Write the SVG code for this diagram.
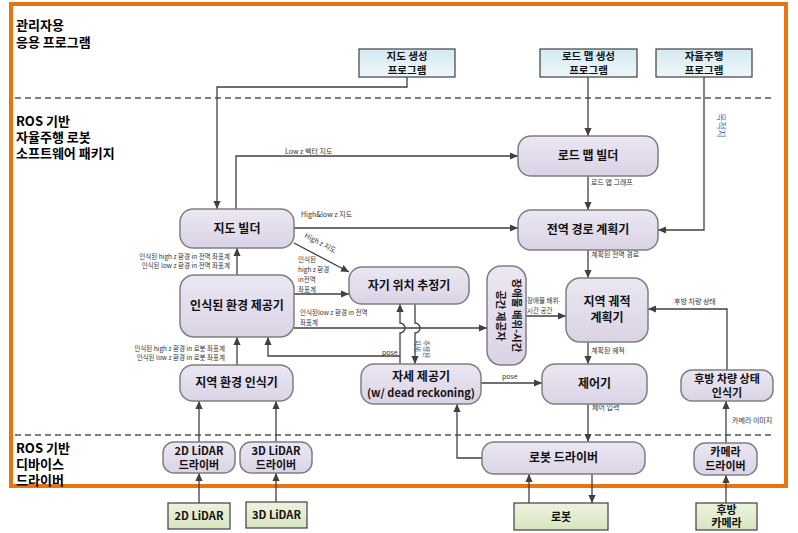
<svg xmlns="http://www.w3.org/2000/svg" width="798" height="533" viewBox="0 0 798 533">
<defs>
<linearGradient id="gNode" x1="0" y1="0" x2="0" y2="1"><stop offset="0" stop-color="#EBE7F2"/><stop offset="1" stop-color="#DAD3E5"/></linearGradient>
<linearGradient id="gProg" x1="0" y1="0" x2="0" y2="1"><stop offset="0" stop-color="#D5EAF2"/><stop offset="1" stop-color="#EEF7FA"/></linearGradient>
<linearGradient id="gGreen" x1="0" y1="0" x2="0" y2="1"><stop offset="0" stop-color="#EDF3E0"/><stop offset="1" stop-color="#D8E5BF"/></linearGradient>
<marker id="ah" viewBox="0 0 10 10" refX="10" refY="5" markerWidth="8" markerHeight="8" markerUnits="userSpaceOnUse" orient="auto"><path d="M0,0.5 L10,5 L0,9.5 z" fill="#404040"/></marker>
<style>
.n rect{fill:url(#gNode);stroke:#7F7F7F;stroke-width:1.5}
.p rect{fill:url(#gProg);stroke:#3F3F3F;stroke-width:1.2}
.g rect{fill:url(#gGreen);stroke:#3F3F3F;stroke-width:1.2}
text{font-family:"Noto Sans CJK KR","Noto Sans",sans-serif}
.t{font-size:12px;font-weight:bold;fill:#111;text-anchor:middle}
.ts{font-size:11px;font-weight:bold;fill:#111;text-anchor:middle}
.tp{font-size:10.5px;font-weight:bold;fill:#111;text-anchor:middle}
.sec{font-size:13px;font-weight:bold;fill:#000}
.l{font-size:7px;fill:#333}
.l2{font-size:6.5px;fill:#333}
.lr{font-size:6.5px;fill:#333;text-anchor:end}
.c path{fill:none;stroke:#404040;stroke-width:1.3}
.c path.a{marker-end:url(#ah)}
</style>
</defs>
<rect width="798" height="533" fill="#fff"/>
<rect x="11" y="4" width="775" height="482" fill="none" stroke="#E8740F" stroke-width="4"/>
<g id="dividers" stroke="#555" stroke-width="1.5" stroke-dasharray="6,4">
<line x1="15" y1="98" x2="775" y2="98"/>
<line x1="15" y1="435" x2="775" y2="435"/>
</g>
<g id="sections" class="sec">
<text x="16" y="30" class="sec">관리자용</text>
<text x="16" y="47" class="sec">응용 프로그램</text>
<text x="16" y="126" class="sec">ROS 기반</text>
<text x="16" y="142" class="sec">자율주행 로봇</text>
<text x="16" y="158" class="sec">소프트웨어 패키지</text>
<text x="16" y="453" class="sec">ROS 기반</text>
<text x="16" y="469" class="sec">디바이스</text>
<text x="16" y="485" class="sec">드라이버</text>
</g>
<g class="c" id="connectors">
<path class="a" d="M407,77 V87 H217 V209"/>
<path class="a" d="M236,209 V156 H518"/>
<path class="a" d="M588,77 V136"/>
<path class="a" d="M704,77 V230 H658"/>
<path class="a" d="M588,176 V210"/>
<path class="a" d="M588,250 V278"/>
<path class="a" d="M588,342 V364"/>
<path class="a" d="M588,404 V442"/>
<path class="a" d="M294,228 H518"/>
<path class="a" d="M294,243 L349,272"/>
<path class="a" d="M294,294 H349"/>
<path class="a" d="M294,328 H487"/>
<path class="a" d="M400,364 V333 A5,5 0 0 0 400,323 V304"/>
<path class="a" d="M415,304 V323 A5,5 0 0 1 415,333 V364"/>
<path class="a" d="M400,356 H268 V337"/>
<path class="a" d="M237,275 V248"/>
<path class="a" d="M237,365 V337"/>
<path class="a" d="M526,316 H566"/>
<path class="a" d="M727,370 V309 H648"/>
<path class="a" d="M481,383 H542"/>
<path class="a" d="M482,458 H457 V404"/>
<path class="a" d="M529,503 V474"/>
<path class="a" d="M592,474 V503"/>
<path class="a" d="M199,503 V473"/>
<path class="a" d="M199,442 V401"/>
<path class="a" d="M276,502 V473"/>
<path class="a" d="M276,442 V401"/>
<path class="a" d="M726,503 V475"/>
<path class="a" d="M726,443 V401"/>
</g>
<g id="labels">
<text class="l" x="285" y="154">Low z 벡터 지도</text>
<text class="l" x="591" y="185">로드 맵 그래프</text>
<text class="l" x="301" y="217">High&amp;low z 지도</text>
<text class="l" x="304" y="237" transform="rotate(28 304 237)">High z 지도</text>
<text class="l" x="591" y="257">계획된 전역 경로</text>
<text class="l2" x="298" y="262">인식된</text>
<text class="l2" x="298" y="272">high z 환경</text>
<text class="l2" x="298" y="282">in전역</text>
<text class="l2" x="298" y="292">좌표계</text>
<text class="l2" x="300" y="315">인식된low z 환경 in 전역</text>
<text class="l2" x="300" y="325">좌표계</text>
<text class="l2" x="527" y="303">장애물 배위-</text>
<text class="l2" x="527" y="313">시간 공간</text>
<text class="l" x="674" y="304">후방 차량 상태</text>
<text class="l" x="591" y="353">계획된 궤적</text>
<text class="l" x="502" y="379">pose</text>
<text class="l" x="382" y="355">pose</text>
<text class="l" x="592" y="410">제어 입력</text>
<text class="l" x="732" y="423">카메라 이미지</text>
<text class="lr" x="230" y="259">인식된 high z 환경 in 전역 좌표계</text>
<text class="lr" x="230" y="268">인식된 low z 환경 in 전역 좌표계</text>
<text class="lr" x="225" y="351">인식된 high z 환경 in 로봇 좌표계</text>
<text class="lr" x="225" y="360">인식된  low z 환경 in 로봇 좌표계</text>
<text class="l2" style="fill:#1F4E79" transform="translate(424,340) rotate(90)">추정된</text>
<text class="l2" style="fill:#1F4E79" transform="translate(415,340) rotate(90)">자세</text>
<text style="font-size:9px;fill:#4472C4" transform="translate(718,113) rotate(90)">목적지</text>
</g>
<g id="prog-map" class="p"><rect x="359" y="49" width="96" height="28"/><text class="tp" x="407" y="60">지도 생성</text><text class="tp" x="407" y="74">프로그램</text></g>
<g id="prog-road" class="p"><rect x="540" y="49" width="97" height="28"/><text class="tp" x="588.5" y="60">로드 맵 생성</text><text class="tp" x="588.5" y="74">프로그램</text></g>
<g id="prog-auto" class="p"><rect x="656" y="49" width="96" height="28"/><text class="tp" x="704" y="60">자율주행</text><text class="tp" x="704" y="74">프로그램</text></g>
<g id="roadmap-builder" class="n"><rect x="518" y="136" width="140" height="40" rx="13"/><text class="t" x="588" y="160">로드 맵 빌더</text></g>
<g id="global-planner" class="n"><rect x="518" y="210" width="140" height="40" rx="13"/><text class="t" x="588" y="234">전역 경로 계획기</text></g>
<g id="local-planner" class="n"><rect x="566" y="278" width="82" height="64" rx="14"/><text class="t" x="607" y="306">지역 궤적</text><text class="t" x="607" y="322">계획기</text></g>
<g id="controller" class="n"><rect x="542" y="364" width="105" height="40" rx="13"/><text class="t" x="594.5" y="388">제어기</text></g>
<g id="robot-driver" class="n"><rect x="482" y="442" width="163" height="32" rx="12"/><text class="t" x="563.5" y="462">로봇 드라이버</text></g>
<g id="robot" class="g"><rect x="514" y="503" width="94" height="27"/><text class="ts" x="561" y="521">로봇</text></g>
<g id="pose-provider" class="n"><rect x="361" y="364" width="120" height="40" rx="13"/><text class="t" x="421" y="381">자세 제공기</text><text class="ts" x="421" y="397">(w/ dead reckoning)</text></g>
<g id="localizer" class="n"><rect x="349" y="267" width="120" height="37" rx="13"/><text class="t" x="409" y="290">자기 위치 추정기</text></g>
<g id="obstacle-provider" class="n"><rect x="487" y="266" width="39" height="99" rx="14"/><g transform="rotate(90 506.5 315.5)"><text class="ts" x="506.5" y="309" style="font-size:10.5px">장애물 배위-시간</text><text class="ts" x="506.5" y="325" style="font-size:10.5px">공간 제공자</text></g></g>
<g id="map-builder" class="n"><rect x="180" y="209" width="114" height="39" rx="13"/><text class="t" x="237" y="233">지도 빌더</text></g>
<g id="env-provider" class="n"><rect x="180" y="275" width="114" height="62" rx="14"/><text class="t" x="237" y="310">인식된 환경 제공기</text></g>
<g id="local-env" class="n"><rect x="180" y="365" width="113" height="36" rx="13"/><text class="t" x="236.5" y="387">지역 환경 인식기</text></g>
<g id="lidar2d-driver" class="n"><rect x="163" y="442" width="72" height="31" rx="11"/><text class="ts" x="199" y="455">2D LiDAR</text><text class="ts" x="199" y="469">드라이버</text></g>
<g id="lidar3d-driver" class="n"><rect x="240" y="442" width="72" height="31" rx="11"/><text class="ts" x="276" y="455">3D LiDAR</text><text class="ts" x="276" y="469">드라이버</text></g>
<g id="lidar2d" class="g"><rect x="168" y="503" width="62" height="26"/><text class="ts" x="199" y="520">2D LiDAR</text></g>
<g id="lidar3d" class="g"><rect x="246" y="502" width="61" height="26"/><text class="ts" x="276.5" y="519">3D LiDAR</text></g>
<g id="rear-recognizer" class="n"><rect x="681" y="370" width="92" height="31" rx="11"/><text class="ts" x="727" y="383">후방 차량 상태</text><text class="ts" x="727" y="397">인식기</text></g>
<g id="camera-driver" class="n"><rect x="694" y="443" width="63" height="32" rx="11"/><text class="ts" x="725.5" y="456">카메라</text><text class="ts" x="725.5" y="470">드라이버</text></g>
<g id="rear-camera" class="g"><rect x="696" y="503" width="61" height="27"/><text class="ts" x="726.5" y="514">후방</text><text class="ts" x="726.5" y="527">카메라</text></g>
</svg>
